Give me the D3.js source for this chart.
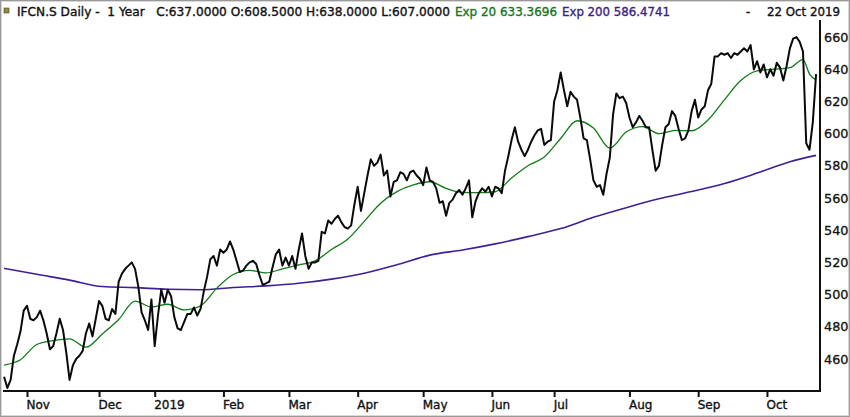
<!DOCTYPE html>
<html>
<head>
<meta charset="utf-8">
<script src="https://cdn.jsdelivr.net/npm/d3@7"></script>
<style>
  body { margin: 0; background: #fff; }
  svg { display: block; font-family: "DejaVu Sans", sans-serif; }
  text { white-space: pre; }
</style>
</head>
<body>
<svg id="chart" width="850" height="417"></svg>
<script>
// daily closes, 23 Oct 2018 .. 22 Oct 2019 (trading days)
const closes = [
  449, 442, 447, 462, 469, 477, 490, 493, 485, 484,
  486, 490, 484, 476, 466, 468, 476, 485, 478, 464,
  447, 456, 460, 462, 465, 476, 482, 474, 485, 496,
  493, 485, 484, 491, 488, 508, 513, 516, 518, 520,
  516, 505, 489, 484, 478, 497, 468, 487, 503, 495,
  503, 499, 486, 479, 478, 483, 488, 488, 492, 487,
  491, 502, 511, 522, 524, 518, 528, 526, 528, 533,
  528, 521, 514, 515, 518, 520, 521, 519, 512, 506,
  507, 508, 517, 525, 528, 518, 523, 518, 524, 516,
  528, 538, 524, 516, 520, 520, 521, 539, 538, 546,
  544, 547, 549, 545, 542, 541, 543, 556, 567, 552,
  563, 574, 584, 580, 582, 587, 574, 577, 561, 570,
  571, 576, 575, 571, 576, 577, 574, 572, 568, 579,
  571, 570, 566, 557, 558, 549, 557, 559, 563, 565,
  562, 566, 571, 548, 558, 563, 566, 564, 567, 561,
  567, 566, 563, 577, 586, 596, 604, 595, 590, 586,
  590, 595, 599, 602, 603, 593, 595, 596, 620, 627,
  638, 627, 617, 626, 623, 621, 610, 597, 596, 584,
  571, 567, 568, 562, 575, 585, 612, 625, 622, 623,
  619, 610, 604, 607, 611, 608, 604, 604, 590, 577,
  580, 593, 604, 606, 614, 611, 603, 596, 597, 602,
  614, 621, 610, 615, 617, 627, 631, 648, 648, 650,
  649, 650, 647, 650, 649, 651, 653, 651, 655, 640,
  645, 638, 643, 635, 640, 636, 644, 641, 633, 642,
  653, 659, 660, 657, 651, 594, 590, 607, 637
];

// Exp 20 read at these trading-day positions
const ema20Idx = [0, 5, 10, 15, 20, 25, 30, 35, 40, 45, 50, 55, 60, 65, 70, 75, 80, 85, 90, 95,
  100, 105, 110, 115, 120, 125, 130, 135, 140, 145, 150, 155, 160, 165, 170, 175, 180, 185,
  190, 195, 200, 205, 210, 215, 220, 225, 230, 235, 240, 244, 246, 248];
const ema20Vals = [456.2, 459.5, 469, 471.4, 472.5, 467.3, 475.5, 484.5, 496, 492.3, 494, 490.5,
  493, 504, 512.5, 515, 513.5, 516, 518.4, 521, 528, 534.5, 545.5, 556.8, 564, 568.1, 570.1,
  566, 563.5, 563.3, 563.9, 572.5, 580, 585.5, 597, 608, 603.5, 591, 601, 604.4, 600, 602,
  601.8, 608.5, 621, 633, 639, 640, 641, 646, 637, 633.4];

// Exp 200
const ema200Idx = [0, 10, 20, 30, 40, 50, 60, 70, 80, 90, 100, 110, 120, 130, 140, 150, 160,
  170, 180, 190, 200, 210, 220, 230, 240, 248];
const ema200Vals = [516.3, 512.6, 509, 505, 504.3, 503.3, 503, 504.4, 505.4, 507, 509.6, 513.3,
  518.5, 524.5, 527.7, 531.5, 536, 541, 548, 554, 559.5, 564, 569, 575.5, 582.5, 586.5];

const monthIdx = [7, 29, 46, 67, 87, 108, 128, 149, 168, 191, 212, 233];
const monthLabels = ['Nov', 'Dec', '2019', 'Feb', 'Mar', 'Apr', 'May', 'Jun', 'Jul', 'Aug', 'Sep', 'Oct'];
const priceTicks = [460, 480, 500, 520, 540, 560, 580, 600, 620, 640, 660];

const svg = d3.select('#chart');
const W = 850, H = 417;
const plot = {left: 3, right: 820, top: 20, bottom: 391};

const x = d3.scaleLinear().domain([-0.33, 249.2]).range([plot.left, plot.right]);
const y = d3.scaleLinear().domain([440.1, 670.6]).range([plot.bottom, plot.top]);

// outer frame
svg.append('rect').attr('x', 0.5).attr('y', 0.5).attr('width', W - 1).attr('height', H - 1)
  .attr('fill', '#fff').attr('stroke', '#9a9a9a').attr('stroke-width', 1);
svg.append('rect').attr('x', 1.5).attr('y', 1.5).attr('width', W - 3).attr('height', H - 3)
  .attr('fill', 'none').attr('stroke', '#d8d8d8').attr('stroke-width', 1);

// header
const head = svg.append('g').attr('font-size', 11.5).attr('stroke-width', 0.35);
head.append('rect').attr('x', 4).attr('y', 8).attr('width', 5).attr('height', 5)
  .attr('fill', '#9c8a2c').attr('stroke', '#444').attr('stroke-width', 0.6);
head.append('text').attr('x', 17).attr('y', 15.5).attr('fill', '#111').attr('stroke', '#111')
  .attr('textLength', 433).attr('lengthAdjust', 'spacingAndGlyphs')
  .text('IFCN.S Daily -  1 Year   C:637.0000 O:608.5000 H:638.0000 L:607.0000');
head.append('text').attr('x', 455).attr('y', 15.5).attr('fill', '#17761c').attr('stroke', '#17761c')
  .attr('textLength', 102).attr('lengthAdjust', 'spacingAndGlyphs')
  .text('Exp 20 633.3696');
head.append('text').attr('x', 562).attr('y', 15.5).attr('fill', '#3a1f86').attr('stroke', '#3a1f86')
  .attr('textLength', 108).attr('lengthAdjust', 'spacingAndGlyphs')
  .text('Exp 200 586.4741');
head.append('text').attr('x', 746).attr('y', 15.5).attr('fill', '#111').attr('stroke', '#111').text('-');
head.append('text').attr('x', 767).attr('y', 15.5).attr('fill', '#111').attr('stroke', '#111')
  .attr('textLength', 73).attr('lengthAdjust', 'spacingAndGlyphs')
  .text('22 Oct 2019');

// y axis on the right
const yAxis = d3.axisRight(y).tickValues(priceTicks).tickSize(0).tickPadding(4);
svg.append('g')
  .attr('transform', 'translate(' + plot.right + ',0)')
  .call(yAxis)
  .call(function (g) {
    g.select('.domain').remove();
    g.selectAll('.tick text').attr('font-size', 12.8).attr('font-family', '"DejaVu Sans", sans-serif')
      .attr('fill', '#111').attr('stroke', '#111').attr('stroke-width', 0.3);
  });

// x axis with month ticks, labels to the right of tick
const xAxis = d3.axisBottom(x).tickValues(monthIdx).tickSize(6)
  .tickFormat(function (d, i) { return monthLabels[i]; });
svg.append('g')
  .attr('transform', 'translate(0,' + plot.bottom + ')')
  .call(xAxis)
  .call(function (g) {
    g.select('.domain').remove();
    g.selectAll('.tick line').attr('stroke', '#111').attr('stroke-width', 2);
    g.selectAll('.tick text').attr('text-anchor', 'start').attr('x', -1).attr('y', 9)
      .attr('font-size', 12).attr('font-family', '"DejaVu Sans", sans-serif').attr('fill', '#111')
      .attr('stroke', '#111').attr('stroke-width', 0.35);
  });

// plot frame: bottom and right
svg.append('line').attr('x1', plot.left).attr('x2', plot.right + 1).attr('y1', plot.bottom).attr('y2', plot.bottom)
  .attr('stroke', '#111').attr('stroke-width', 2);
svg.append('line').attr('x1', plot.right).attr('x2', plot.right).attr('y1', plot.top).attr('y2', plot.bottom + 1)
  .attr('stroke', '#111').attr('stroke-width', 2);

const g = svg.append('g');

const ema200Line = d3.line()
  .x(function (d, i) { return x(ema200Idx[i]); })
  .y(function (d) { return y(d); })
  .curve(d3.curveMonotoneX);
g.append('path').datum(ema200Vals).attr('d', ema200Line)
  .attr('fill', 'none').attr('stroke', '#3f1f96').attr('stroke-width', 1.6);

const ema20Line = d3.line()
  .x(function (d, i) { return x(ema20Idx[i]); })
  .y(function (d) { return y(d); })
  .curve(d3.curveMonotoneX);
g.append('path').datum(ema20Vals).attr('d', ema20Line)
  .attr('fill', 'none').attr('stroke', '#127a17').attr('stroke-width', 1.3);

const closeLine = d3.line()
  .x(function (d, i) { return x(i); })
  .y(function (d) { return y(d); });
g.append('path').datum(closes).attr('d', closeLine)
  .attr('fill', 'none').attr('stroke', '#0a0a0a').attr('stroke-width', 2)
  .attr('stroke-linejoin', 'round');
</script>
</body>
</html>
